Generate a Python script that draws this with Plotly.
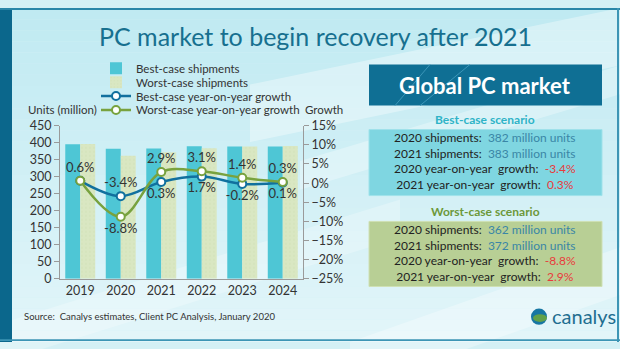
import plotly.graph_objects as go

# Shipment forecasts (million units) and year-on-year growth (%)
years = ["2019", "2020", "2021", "2022", "2023", "2024"]
best_shipments = [395.5, 382, 383, 389.5, 388.7, 389.1]
worst_shipments = [396, 362, 372, 383.5, 389, 390.2]
best_growth = [0.6, -3.4, 0.3, 1.7, -0.2, 0.1]
worst_growth = [0.6, -8.8, 2.9, 3.1, 1.4, 0.3]

best_label_pos = ["top center", "top center", "bottom center", "bottom center", "bottom center", "bottom center"]
worst_label_pos = ["top center", "bottom center", "top center", "top center", "top center", "top center"]
worst_label_show = [False, True, True, True, True, True]

W, H = 620, 349
FONT = "Lato"
TEXT = "#333333"
BEST_BAR = "#4ec6d5"
WORST_BAR = "#d9e7c2"
BEST_LINE = "#11709e"
WORST_LINE = "#78a23e"


def px(x):
    return x / W


def py(y):
    return 1 - y / H


def pct(v):
    return f"{v:.1f}%"


fig = go.Figure()

fig.add_trace(go.Bar(
    name="Best-case shipments", x=years, y=best_shipments, legend="legend",
    marker=dict(color=BEST_BAR, line=dict(width=0)),
    hoverinfo="skip",
))
fig.add_trace(go.Bar(
    name="Worst-case shipments", x=years, y=worst_shipments, legend="legend2",
    marker=dict(color=WORST_BAR, line=dict(width=0),
                pattern=dict(shape=".", fgcolor="#c9dbab", size=4, solidity=0.15, fillmode="overlay")),
    hoverinfo="skip",
))
fig.add_trace(go.Scatter(
    name="Best-case year-on-year growth", x=years, y=best_growth, yaxis="y2", legend="legend3",
    mode="lines+markers+text",
    line=dict(color=BEST_LINE, width=2.5, shape="spline", smoothing=1.0),
    marker=dict(symbol="circle", size=8, color="white", line=dict(color=BEST_LINE, width=2)),
    text=[pct(v) for v in best_growth], textposition=best_label_pos,
    textfont=dict(family=FONT, size=13, color=TEXT),
    hoverinfo="skip",
))
fig.add_trace(go.Scatter(
    name="Worst-case year-on-year growth", x=years, y=worst_growth, yaxis="y2", legend="legend4",
    mode="lines+markers+text",
    line=dict(color=WORST_LINE, width=2.5, shape="spline", smoothing=1.0),
    marker=dict(symbol="circle", size=8, color="white", line=dict(color=WORST_LINE, width=2)),
    text=[pct(v) if s else "" for v, s in zip(worst_growth, worst_label_show)],
    textposition=worst_label_pos,
    textfont=dict(family=FONT, size=13, color=TEXT),
    hoverinfo="skip",
))

shapes = []

# Background: soft vertical gradient built from thin bands
top_rgb = (192, 234, 242)
bot_rgb = (226, 245, 249)
n = 30
for i in range(n):
    t = i / (n - 1)
    c = tuple(round(a + (b - a) * t) for a, b in zip(top_rgb, bot_rgb))
    shapes.append(dict(type="rect", xref="paper", yref="paper", layer="below",
                       x0=0, x1=1, y0=1 - (i + 1) / n, y1=1 - i / n,
                       fillcolor=f"rgb{c}", line=dict(width=0)))

# Light diagonal streaks
for (x0, y0, x1, y1, w, op) in [
    (250, 80, 620, 0, 60, 0.35), (300, 160, 620, 60, 30, 0.3),
    (0, 330, 400, 200, 40, 0.25), (350, 349, 620, 250, 50, 0.3),
]:
    path = (f"M {px(x0)} {py(y0)} L {px(x1)} {py(y1)} "
            f"L {px(x1)} {py(y1 + w)} L {px(x0)} {py(y0 + w)} Z")
    shapes.append(dict(type="path", xref="paper", yref="paper", layer="below",
                       path=path, fillcolor="white", opacity=op, line=dict(width=0)))

# Frame: dark strip on the left and thin borders
shapes.append(dict(type="rect", xref="paper", yref="paper", layer="below",
                   x0=0, x1=px(12), y0=0, y1=1, fillcolor="#0b678c", line=dict(width=0)))
shapes.append(dict(type="rect", xref="paper", yref="paper", layer="below",
                   x0=0, x1=1, y0=py(2), y1=1, fillcolor="#2a86a8", line=dict(width=0)))
shapes.append(dict(type="rect", xref="paper", yref="paper", layer="below",
                   x0=px(617), x1=px(619), y0=0, y1=1, fillcolor="#3d95b5", line=dict(width=0)))
shapes.append(dict(type="rect", xref="paper", yref="paper", layer="below",
                   x0=0, x1=1, y0=py(348), y1=py(346), fillcolor="#3d95b5", line=dict(width=0)))

# Right panel boxes
shapes.append(dict(type="rect", xref="paper", yref="paper",
                   x0=px(369), x1=px(602), y0=py(102), y1=py(59),
                   fillcolor="#0f6f94", line=dict(width=0)))
for (x0, x1) in [(395, 430), (420, 470)]:
    shapes.append(dict(type="line", xref="paper", yref="paper",
                       x0=px(x0), x1=px(x1), y0=py(102), y1=py(59),
                       line=dict(color="#3b96b8", width=1)))
shapes.append(dict(type="rect", xref="paper", yref="paper",
                   x0=px(369), x1=px(602), y0=py(196), y1=py(127),
                   fillcolor="#7fd6e1", line=dict(color="#9fe2ea", width=1)))
shapes.append(dict(type="rect", xref="paper", yref="paper",
                   x0=px(369), x1=px(602), y0=py(291), y1=py(223),
                   fillcolor="#b8cf95", line=dict(color="#cfe0b4", width=1)))

# Logo globe
shapes.append(dict(type="circle", xref="paper", yref="paper",
                   x0=px(531), x1=px(547), y0=py(331), y1=py(314),
                   fillcolor="#1877a3", line=dict(width=0)))
shapes.append(dict(type="circle", xref="paper", yref="paper",
                   x0=px(533), x1=px(547), y0=py(328), y1=py(320),
                   fillcolor="#6aa53f", line=dict(width=0), opacity=0.9))

annotations = []


def note(x, y, text, size=12, color=TEXT, xanchor="center", bold=False, family=FONT):
    if bold:
        text = f"<b>{text}</b>"
    annotations.append(dict(xref="paper", yref="paper", x=px(x), y=py(y), text=text,
                            showarrow=False, xanchor=xanchor, yanchor="middle",
                            font=dict(family=family, size=size, color=color)))


note(315, 29, "PC market to begin recovery after 2021", size=25, color="#17708f")
note(26, 106, "Units (million)", size=11.5, xanchor="left")
note(303, 106, "Growth", size=11.5, xanchor="left")
note(22, 322, "Source:  Canalys estimates, Client PC Analysis, January 2020", size=9.5, xanchor="left")
note(550, 322, "canalys", size=20, color="#1f6e90", xanchor="left")

note(485, 81, "Global PC market", size=22, color="white", bold=True)
note(485, 117, "Best-case scenario", size=12, color="#2eb3c7", bold=True)
note(485, 213, "Worst-case scenario", size=12, color="#6c983a", bold=True)

SHIP = "#3a86a6"
RED = "#e83a3c"
best_lines = [
    f"2020 shipments:  <span style='color:{SHIP}'>382 million units</span>",
    f"2021 shipments:  <span style='color:{SHIP}'>383 million units</span>",
    f"2020 year-on-year  growth:  <span style='color:{RED}'>-3.4%</span>",
    f"2021 year-on-year  growth:  <span style='color:{RED}'>0.3%</span>",
]
worst_lines = [
    f"2020 shipments:  <span style='color:{SHIP}'>362 million units</span>",
    f"2021 shipments:  <span style='color:{SHIP}'>372 million units</span>",
    f"2020 year-on-year  growth:  <span style='color:{RED}'>-8.8%</span>",
    f"2021 year-on-year  growth:  <span style='color:{RED}'>2.9%</span>",
]
note(485, 160, "<br>".join(best_lines), size=12, color="#222222")
note(485, 256, "<br>".join(worst_lines), size=12, color="#222222")

axis_font = dict(family=FONT, size=12.5, color=TEXT)


def legend_row(y):
    return dict(x=px(96), y=py(y), xanchor="left", yanchor="middle",
                bgcolor="rgba(0,0,0,0)", borderwidth=0,
                font=dict(family=FONT, size=11.5, color=TEXT), itemwidth=30)


fig.update_layout(
    width=W, height=H,
    margin=dict(l=0, r=0, t=0, b=0),
    paper_bgcolor="#d4f0f5",
    plot_bgcolor="rgba(0,0,0,0)",
    barmode="group", bargap=0.26, bargroupgap=0,
    font=dict(family=FONT, color=TEXT),
    xaxis=dict(domain=[px(60), px(303)], type="category",
               showline=True, linecolor="#9a9a9a", linewidth=1,
               ticks="", tickfont=axis_font, showgrid=False, zeroline=False),
    yaxis=dict(domain=[py(283), py(123)], range=[0, 450], dtick=50,
               showline=True, linecolor="#9a9a9a", linewidth=1,
               ticks="outside", ticklen=5, tickcolor="#9a9a9a",
               tickfont=axis_font, showgrid=False, zeroline=False),
    yaxis2=dict(overlaying="y", side="right", anchor="x", range=[-25, 15], dtick=5,
                ticksuffix="%", showline=True, linecolor="#9a9a9a", linewidth=1,
                ticks="outside", ticklen=5, tickcolor="#9a9a9a",
                tickfont=axis_font, showgrid=False, zeroline=False),
    legend=legend_row(63),
    legend2=legend_row(77.5),
    legend3=legend_row(92),
    legend4=legend_row(106.5),
    showlegend=True,
    shapes=shapes,
    annotations=annotations,
)

fig.write_html("out.html")
